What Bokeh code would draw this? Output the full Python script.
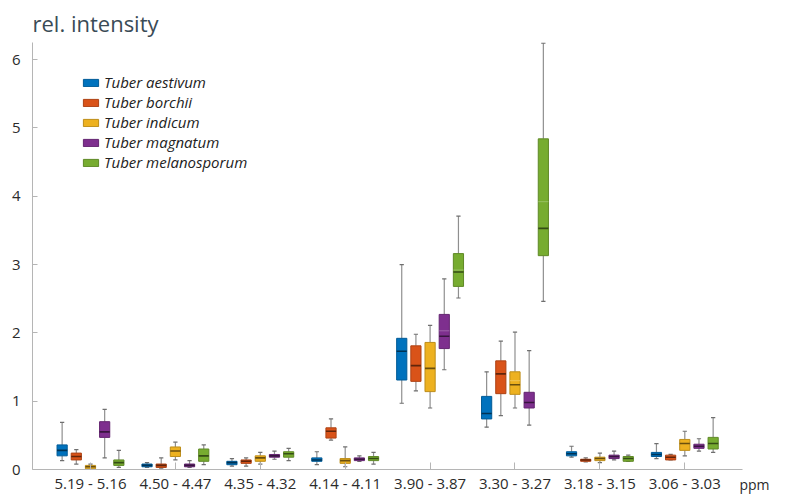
import math
from bokeh.plotting import figure
from bokeh.models import Legend, LegendItem, FixedTicker, Range1d
from bokeh.embed import file_html
from bokeh.resources import INLINE

categories = ["5.19 - 5.16", "4.50 - 4.47", "4.35 - 4.32", "4.14 - 4.11",
              "3.90 - 3.87", "3.30 - 3.27", "3.18 - 3.15", "3.06 - 3.03"]
species = ["Tuber aestivum", "Tuber borchii", "Tuber indicum",
           "Tuber magnatum", "Tuber melanosporum"]
colors = ["#0072BD", "#D95319", "#EDB120", "#7E2F8E", "#77AC30"]

aestivum_min = [0.13, 0.03, 0.05, 0.07, 0.97, 0.62, 0.18, 0.16]
aestivum_q1 = [0.20, 0.04, 0.07, 0.12, 1.31, 0.74, 0.20, 0.19]
aestivum_med = [0.28, 0.06, 0.10, 0.14, 1.73, 0.82, 0.23, 0.22]
aestivum_q3 = [0.36, 0.08, 0.12, 0.17, 1.92, 1.07, 0.26, 0.25]
aestivum_max = [0.69, 0.10, 0.16, 0.26, 3.00, 1.43, 0.34, 0.38]

borchii_min = [0.08, 0.02, 0.05, 0.43, 1.15, 0.79, 0.11, 0.14]
borchii_q1 = [0.14, 0.03, 0.09, 0.46, 1.29, 1.11, 0.12, 0.14]
borchii_med = [0.19, 0.06, 0.12, 0.56, 1.52, 1.40, 0.14, 0.18]
borchii_q3 = [0.24, 0.08, 0.14, 0.61, 1.81, 1.59, 0.15, 0.21]
borchii_max = [0.29, 0.17, 0.17, 0.74, 1.98, 1.88, 0.17, 0.22]

indicum_min = [0.00, 0.14, 0.08, 0.04, 0.90, 0.90, 0.10, 0.20]
indicum_q1 = [0.01, 0.19, 0.12, 0.09, 1.14, 1.10, 0.13, 0.28]
indicum_med = [0.04, 0.27, 0.17, 0.13, 1.48, 1.24, 0.16, 0.38]
indicum_q3 = [0.06, 0.33, 0.20, 0.16, 1.86, 1.43, 0.18, 0.44]
indicum_max = [0.08, 0.40, 0.25, 0.33, 2.11, 2.01, 0.24, 0.56]

magnatum_min = [0.17, 0.03, 0.15, 0.12, 1.46, 0.65, 0.14, 0.27]
magnatum_q1 = [0.47, 0.04, 0.18, 0.13, 1.77, 0.90, 0.16, 0.31]
magnatum_med = [0.55, 0.06, 0.20, 0.15, 1.95, 0.98, 0.19, 0.34]
magnatum_q3 = [0.70, 0.08, 0.22, 0.17, 2.27, 1.13, 0.21, 0.37]
magnatum_max = [0.88, 0.13, 0.27, 0.20, 2.79, 1.74, 0.27, 0.45]

melanosporum_min = [0.03, 0.07, 0.13, 0.08, 2.51, 2.46, 0.12, 0.25]
melanosporum_q1 = [0.06, 0.12, 0.18, 0.13, 2.68, 3.13, 0.12, 0.30]
melanosporum_med = [0.10, 0.20, 0.23, 0.16, 2.89, 3.53, 0.16, 0.38]
melanosporum_q3 = [0.14, 0.30, 0.26, 0.19, 3.16, 4.84, 0.19, 0.47]
melanosporum_max = [0.28, 0.36, 0.31, 0.25, 3.71, 6.24, 0.21, 0.76]

nan = float("nan")
indicum_mean = [nan, nan, nan, nan, nan, 1.30, nan, nan]
magnatum_mean = [nan, nan, nan, nan, 2.03, nan, nan, nan]
melanosporum_mean = [nan, nan, nan, nan, 2.92, 3.92, nan, nan]
empty_mean = [nan] * 8

stats = [
    (aestivum_min, aestivum_q1, aestivum_med, aestivum_q3, aestivum_max, empty_mean),
    (borchii_min, borchii_q1, borchii_med, borchii_q3, borchii_max, empty_mean),
    (indicum_min, indicum_q1, indicum_med, indicum_q3, indicum_max, indicum_mean),
    (magnatum_min, magnatum_q1, magnatum_med, magnatum_q3, magnatum_max, magnatum_mean),
    (melanosporum_min, melanosporum_q1, melanosporum_med, melanosporum_q3, melanosporum_max, melanosporum_mean),
]


def shade(hexcol, f):
    r, g, b = (int(hexcol[i:i + 2], 16) for i in (1, 3, 5))
    return "#%02x%02x%02x" % (int(r * f), int(g * f), int(b * f))


def tint(hexcol, f):
    r, g, b = (int(hexcol[i:i + 2], 16) for i in (1, 3, 5))
    return "#%02x%02x%02x" % (int(r + (255 - r) * f), int(g + (255 - g) * f), int(b + (255 - b) * f))


FONT = "Open Sans"
X0, X1, XEND = -0.683, 7.683, 7.821
p = figure(frame_width=722, frame_height=427, output_backend="svg", toolbar_location=None,
           x_range=Range1d(X0, XEND), y_range=Range1d(0, 6.25),
           min_border_left=32, min_border_right=16, min_border_top=39, min_border_bottom=20)
p.outline_line_color = None
p.xgrid.grid_line_color = None
p.ygrid.grid_line_color = None
p.background_fill_color = "white"

p.title.text = "rel. intensity"
p.title.text_font = FONT
p.title.text_font_size = "22px"
p.title.text_font_style = "normal"
p.title.text_color = "#3a4b56"
p.title.standoff = 10

p.xaxis.ticker = FixedTicker(ticks=list(range(len(categories))))
p.xaxis.major_label_overrides = {i: c for i, c in enumerate(categories)}
p.xaxis.bounds = (X0, X1)
p.yaxis.ticker = FixedTicker(ticks=[0, 1, 2, 3, 4, 5, 6])
for ax in (p.xaxis[0], p.yaxis[0]):
    ax.axis_line_color = "#b5b5b5"
    ax.major_tick_line_color = "#b5b5b5"
    ax.minor_tick_line_color = None
    ax.major_tick_out = 0
    ax.major_label_text_font = FONT
    ax.major_label_text_color = "#2b2b2b"
p.xaxis.major_tick_in = 7
p.yaxis.major_tick_in = 5
p.xaxis.major_label_text_font_size = "15px"
p.yaxis.major_label_text_font_size = "15px"
p.xaxis.major_label_standoff = 3
p.yaxis.major_label_standoff = 12

p.xaxis.axis_label = "ppm"
p.xaxis.axis_label_align = "end"
p.xaxis.axis_label_standoff = -21
p.xaxis.axis_label_text_font = FONT
p.xaxis.axis_label_text_font_size = "14px"
p.xaxis.axis_label_text_font_style = "normal"
p.xaxis.axis_label_text_color = "#2b2b2b"

offset = 0.167
bw = 0.12
cap = 0.05
items = []
for s, (name, col) in enumerate(zip(species, colors)):
    mn, q1, md, q3, mx, mean = stats[s]
    xs = [i + (s - 2) * offset for i in range(len(categories))]
    p.segment(x0=xs, y0=q3, x1=xs, y1=mx, line_color="#8f8f8f", line_width=1.2)
    p.segment(x0=xs, y0=q1, x1=xs, y1=mn, line_color="#8f8f8f", line_width=1.2)
    p.segment(x0=[x - cap / 2 for x in xs], y0=mx, x1=[x + cap / 2 for x in xs], y1=mx,
              line_color="#6f6f6f", line_width=1.2)
    p.segment(x0=[x - cap / 2 for x in xs], y0=mn, x1=[x + cap / 2 for x in xs], y1=mn,
              line_color="#6f6f6f", line_width=1.2)
    r = p.vbar(x=xs, bottom=q1, top=q3, width=bw, fill_color=col,
               line_color=shade(col, 0.8), line_width=1)
    p.segment(x0=[x - bw / 2 for x in xs], y0=mean, x1=[x + bw / 2 for x in xs], y1=mean,
              line_color=tint(col, 0.25), line_width=1)
    p.segment(x0=[x - bw / 2 for x in xs], y0=md, x1=[x + bw / 2 for x in xs], y1=md,
              line_color=shade(col, 0.45), line_width=1.6)
    items.append(LegendItem(label=name, renderers=[r]))

legend = Legend(items=items, location=(49, 297), padding=0, spacing=0,
                glyph_width=19, glyph_height=9, label_height=20, label_standoff=4,
                label_text_font=FONT, label_text_font_size="15px",
                label_text_font_style="italic", label_text_color="#222222",
                border_line_color=None, background_fill_alpha=0)
p.add_layout(legend)

open("out.html", "w").write(file_html(p, INLINE))
